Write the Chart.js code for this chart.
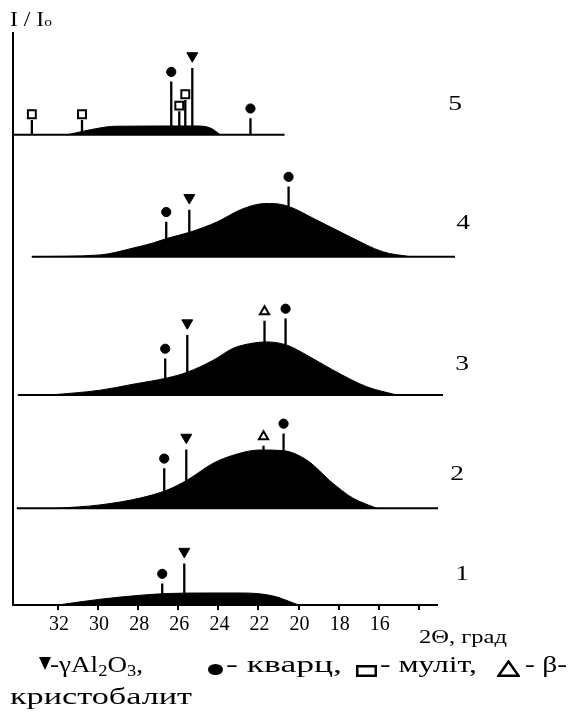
<!DOCTYPE html>
<html>
<head>
<meta charset="utf-8">
<script src="https://cdn.jsdelivr.net/npm/chart.js@4.4.1/dist/chart.umd.min.js"></script>
<style>
    body { margin: 0; background: #fff; }
    #wrap { position: relative; width: 574px; height: 718px; font-family: 'Liberation Serif', 'Times New Roman', serif; color: #000; }
    #myChart { position: absolute; left: 0; top: 0; }
    .t { position: absolute; white-space: nowrap; line-height: 1; transform-origin: 0 0; }
    .t sub { font-size: 0.68em; vertical-align: -0.22em; line-height: 0; }
    .sym { position: absolute; }
</style>
</head>
<body>
<div id="wrap">
    <canvas id="myChart" width="574" height="718"></canvas>

    <div class="t fit" data-w="42" style="left:10px;top:9px;font-size:20px">I / I<span style="font-size:13px">o</span></div>
    <div class="t fit" data-w="88" style="left:419px;top:628px;font-size:18px">2Θ, град</div>

    <svg class="sym" style="left:39px;top:657px" width="12" height="13"><polygon points="0,0 12,0 6,13" fill="#000"/></svg>
    <div class="t fit" data-w="93" style="left:50px;top:652px;font-size:24px">-γAl<sub>2</sub>O<sub>3</sub>,</div>
    <svg class="sym" style="left:208px;top:664px" width="15" height="11"><ellipse cx="7.5" cy="5.5" rx="7.5" ry="5.5" fill="#000"/></svg>
    <div class="t fit" data-w="116" style="left:226px;top:652px;font-size:24px">- кварц,</div>
    <svg class="sym" style="left:356px;top:665px" width="21" height="12"><rect x="1.25" y="1.25" width="18.5" height="9.5" fill="none" stroke="#000" stroke-width="2.5"/></svg>
    <div class="t fit" data-w="97" style="left:380px;top:652px;font-size:24px">- муліт,</div>
    <svg class="sym" style="left:497px;top:660px" width="23" height="17"><polygon points="11.5,1.5 1.5,15.8 21.5,15.8" fill="none" stroke="#000" stroke-width="2.5"/></svg>
    <div class="t fit" data-w="42" style="left:525px;top:652px;font-size:24px">- β-</div>
    <div class="t fit" data-w="182" style="left:10px;top:684px;font-size:24px">кристобалит</div>
</div>

<script>
// x-axis ticks, 2θ in degrees (14 carries a mark but no label)
const tickValues = [32, 30, 28, 26, 24, 22, 20, 18, 16, 14];

// sample numbers, bottom to top, and the vertical shift of each pattern
const traceLabels = ['1', '2', '3', '4', '5'];
const traceOffsets = [0, 16.9, 36.7, 60.9, 82.2];
const baseStart = [null, 34.05, 34.0, 33.3, 34.24];
const baseEnd = [null, 13.05, 12.8, 12.2, 20.7];

// amorphous halo of each pattern: 2θ and intensity above its baseline
const halo1X = [32.0, 29.9, 27.9, 26.6, 24.7, 22.8, 21.3, 20.0];
const halo1Y = [0, 1.0, 1.7, 2.0, 2.1, 2.1, 1.6, 0];
const halo2X = [32.05, 29.9, 27.9, 26.55, 25.55, 24.25, 23.25, 21.95, 20.8, 19.6, 18.3, 17.3, 16.1];
const halo2Y = [0, 0.6, 1.8, 3.2, 4.95, 7.9, 9.3, 10.2, 10.1, 8.45, 4.4, 1.8, 0];
const halo3X = [32.4, 29.9, 28.25, 26.55, 25.55, 24.25, 23.25, 22.25, 21.6, 20.6, 19.6, 18.3, 16.6, 15.1];
const halo3Y = [0, 0.85, 1.9, 3.0, 4.0, 6.1, 8.2, 9.1, 9.3, 8.75, 7.0, 4.4, 1.45, 0];
const halo4X = [33.3, 29.9, 28.25, 27.25, 26.55, 25.4, 24.05, 22.9, 21.95, 21.45, 20.6, 19.1, 17.45, 15.8, 14.45];
const halo4Y = [0, 0.3, 1.5, 2.4, 3.2, 4.3, 6.1, 8.2, 9.2, 9.3, 8.9, 6.4, 3.5, 0.85, 0];
const halo5X = [31.55, 29.9, 29.15, 25.15, 24.4, 23.9];
const halo5Y = [0, 1.2, 1.5, 1.55, 1.2, 0];

// reflections: 2θ, line height, phase (a - γ-Al2O3, q - кварц, m - муліт, c - β-кристобалит)
const peaks1X = [26.8, 25.7];
const peaks1H = [3.75, 7.25];
const peaks1P = ['q', 'a'];
const peaks2X = [26.7, 25.6, 21.75, 20.75];
const peaks2H = [7.0, 10.3, 10.95, 13.1];
const peaks2P = ['q', 'a', 'c', 'q'];
const peaks3X = [26.65, 25.55, 21.7, 20.65];
const peaks3H = [6.4, 10.5, 13.0, 13.4];
const peaks3P = ['q', 'a', 'c', 'q'];
const peaks4X = [26.6, 25.45, 20.5];
const peaks4H = [6.1, 8.2, 12.25];
const peaks4P = ['q', 'a', 'q'];
const peaks5X = [33.3, 30.8, 26.35, 25.95, 25.65, 25.3, 22.4];
const peaks5H = [2.6, 2.6, 9.3, 4.1, 6.1, 11.7, 2.9];
const peaks5P = ['m', 'm', 'q', 'm', 'm', 'a', 'q'];

const halos = [[halo1X, halo1Y], [halo2X, halo2Y], [halo3X, halo3Y], [halo4X, halo4Y], [halo5X, halo5Y]];
const peaks = [[peaks1X, peaks1H, peaks1P], [peaks2X, peaks2H, peaks2P], [peaks3X, peaks3H, peaks3P],
               [peaks4X, peaks4H, peaks4P], [peaks5X, peaks5H, peaks5P]];

const phaseStyle = {
    a: { pointStyle: 'triangle', rotation: 180, radius: 6.3, fill: '#000', border: 1, gap: 2.1 },
    q: { pointStyle: 'circle', rotation: 0, radius: 4.6, fill: '#000', border: 1, gap: 1.7 },
    m: { pointStyle: 'rect', rotation: 0, radius: 5.6, fill: '#fff', border: 2, gap: 1.0 },
    c: { pointStyle: 'triangle', rotation: 0, radius: 5.3, fill: '#fff', border: 2, gap: 1.6 }
};

// where the sample numbers sit (px) relative to each baseline
const numberX = [462, 457, 462, 463, 455];
const numberLift = [25, 28, 25, 28, 24.5];

Chart.defaults.font.family = "'Liberation Serif', 'Times New Roman', serif";
Chart.defaults.color = '#000';

const datasets = [];

halos.forEach(([xs, ys], i) => {
    datasets.push({
        data: xs.map((x, k) => ({ x: x, y: traceOffsets[i] + ys[k] })),
        borderColor: '#000',
        backgroundColor: '#000',
        borderWidth: 1,
        pointRadius: 0,
        cubicInterpolationMode: 'monotone',
        fill: { value: traceOffsets[i] },
        order: 2
    });
});

traceOffsets.forEach((off, i) => {
    if (baseStart[i] === null) return;
    datasets.push({
        data: [{ x: baseStart[i], y: off }, { x: baseEnd[i], y: off }],
        borderColor: '#000',
        borderWidth: 2,
        pointRadius: 0,
        fill: false,
        clip: false,
        order: 3
    });
});

const stickPts = [];
const markerPts = { a: [], q: [], m: [], c: [] };
peaks.forEach(([xs, hs, ps], i) => {
    xs.forEach((x, k) => {
        stickPts.push({ x: x, y: traceOffsets[i] }, { x: x, y: traceOffsets[i] + hs[k] }, { x: x, y: null });
        markerPts[ps[k]].push({ x: x, y: traceOffsets[i] + hs[k] + phaseStyle[ps[k]].gap });
    });
});

datasets.push({
    data: stickPts,
    borderColor: '#000',
    borderWidth: 2.3,
    pointRadius: 0,
    spanGaps: false,
    fill: false,
    order: 1
});

Object.keys(markerPts).forEach(p => {
    const s = phaseStyle[p];
    datasets.push({
        data: markerPts[p],
        showLine: false,
        pointStyle: s.pointStyle,
        rotation: s.rotation,
        pointRadius: s.radius,
        pointBackgroundColor: s.fill,
        pointBorderColor: '#000',
        pointBorderWidth: s.border,
        fill: false,
        clip: false,
        order: 0
    });
});

const traceNumbers = {
    id: 'traceNumbers',
    afterDraw(chart) {
        const ctx = chart.ctx;
        const yScale = chart.scales.y;
        ctx.save();
        ctx.fillStyle = '#000';
        ctx.font = "22px 'Liberation Serif'";
        ctx.textAlign = 'center';
        ctx.textBaseline = 'alphabetic';
        traceLabels.forEach((t, i) => {
            ctx.save();
            ctx.translate(numberX[i], yScale.getPixelForValue(traceOffsets[i]) - numberLift[i]);
            ctx.scale(1.25, 1);
            ctx.fillText(t, 0, 0);
            ctx.restore();
        });
        ctx.restore();
    }
};

const ctx = document.getElementById('myChart').getContext('2d');
const myChart = new Chart(ctx, {
    type: 'line',
    data: { datasets: datasets },
    options: {
        responsive: false,
        animation: false,
        layout: { padding: { left: 13, top: 33, right: 137, bottom: 73 } },
        plugins: { legend: { display: false }, tooltip: { enabled: false } },
        scales: {
            x: {
                type: 'linear',
                reverse: true,
                min: 13.1,
                max: 34.24,
                afterBuildTicks: (scale) => { scale.ticks = tickValues.map(v => ({ value: v })); },
                afterFit: (scale) => { scale.height = 40; },
                ticks: {
                    autoSkip: false,
                    maxRotation: 0,
                    padding: 3,
                    labelOffset: 1,
                    font: { size: 20 },
                    callback: (v) => (v === 14 ? '' : v)
                },
                grid: { display: true, drawOnChartArea: false, drawTicks: true, tickLength: 5, color: '#000', lineWidth: 2 },
                border: { display: true, color: '#000', width: 2 }
            },
            y: {
                min: 0,
                max: 100,
                afterFit: (scale) => { scale.width = 0; },
                ticks: { display: false },
                grid: { display: false, drawTicks: false },
                border: { display: true, color: '#000', width: 2 }
            }
        }
    },
    plugins: [traceNumbers]
});

document.querySelectorAll('.fit').forEach(el => {
    const w = +el.dataset.w;
    el.style.transform = `scaleX(${w / el.getBoundingClientRect().width})`;
});
</script>
</body>
</html>
